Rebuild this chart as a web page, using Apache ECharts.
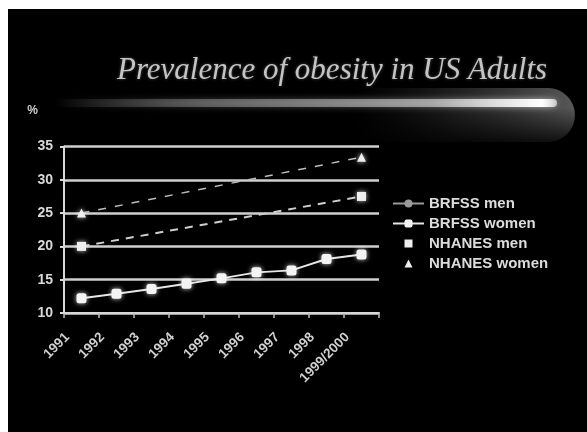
<!DOCTYPE html>
<html>
<head>
<meta charset="utf-8">
<style>
  html, body { margin: 0; padding: 0; background: #fff; }
  #chart { width: 587px; height: 432px; }
</style>
<script src="https://cdn.jsdelivr.net/npm/echarts@6/dist/echarts.min.js"></script>
</head>
<body>
<div id="chart"></div>
<script>
// Survey years on the category axis
const years = ['1991', '1992', '1993', '1994', '1995', '1996', '1997', '1998', '1999/2000'];

// Obesity prevalence (%) by survey
const brfssMen = [];
const brfssWomen = [12.2, 12.9, 13.6, 14.4, 15.2, 16.1, 16.4, 18.1, 18.8];
const nhanesMen = [20.0, null, null, null, null, null, null, null, 27.5];
const nhanesWomen = [25.0, null, null, null, null, null, null, null, 33.4];

// Value axis range
const yMin = 10, yMax = 35, yStep = 5;

const chart = echarts.init(document.getElementById('chart'), null, { renderer: 'canvas' });

const sans = 'Liberation Sans, Arial, sans-serif';

chart.setOption({
  backgroundColor: '#ffffff',
  animation: false,
  title: {
    text: 'Prevalence of obesity in US Adults',
    left: 112,
    top: 50,
    textStyle: {
      fontFamily: 'Liberation Serif, Times New Roman, serif',
      fontStyle: 'italic',
      fontWeight: 'normal',
      fontSize: 31,
      color: '#c4c4c4',
      textShadowColor: 'rgba(255,255,255,0.3)',
      textShadowBlur: 3
    }
  },
  graphic: [
    // slide background
    { type: 'rect', z: -100, silent: true,
      shape: { x: 8, y: 9, width: 579, height: 423 },
      style: { fill: '#000000' } },
    // grey haze under the right end of the streak
    { type: 'rect', z: -90, silent: true,
      shape: { x: 355, y: 88, width: 220, height: 54, r: [0, 30, 30, 0] },
      style: {
        fill: new echarts.graphic.LinearGradient(0, 0, 1, 0, [
          { offset: 0, color: 'rgba(60,60,60,0)' },
          { offset: 0.45, color: 'rgba(90,90,90,0.35)' },
          { offset: 1, color: 'rgba(125,125,125,0.7)' }
        ])
      } },
    // fade the haze out toward its lower edge
    { type: 'rect', z: -85, silent: true,
      shape: { x: 350, y: 108, width: 230, height: 36 },
      style: {
        fill: new echarts.graphic.LinearGradient(0, 0, 0, 1, [
          { offset: 0, color: 'rgba(0,0,0,0)' },
          { offset: 1, color: 'rgba(0,0,0,0.85)' }
        ])
      } },
    // light streak beneath the title
    { type: 'rect', z: -80, silent: true,
      shape: { x: 55, y: 99, width: 502, height: 8, r: 4 },
      style: {
        fill: new echarts.graphic.LinearGradient(0, 0, 1, 0, [
          { offset: 0, color: 'rgba(255,255,255,0)' },
          { offset: 0.3, color: 'rgba(200,200,200,0.35)' },
          { offset: 0.75, color: 'rgba(220,220,220,0.6)' },
          { offset: 0.97, color: 'rgba(255,255,255,1)' },
          { offset: 1, color: 'rgba(255,255,255,0.6)' }
        ]),
        shadowBlur: 6,
        shadowColor: 'rgba(255,255,255,0.6)'
      } }
  ],
  legend: {
    orient: 'vertical',
    left: 387,
    top: 191,
    itemWidth: 31,
    itemHeight: 10,
    itemGap: 5,
    textStyle: { color: '#dcdcdc', fontFamily: sans, fontWeight: 'bold', fontSize: 15 },
    data: [
      { name: 'BRFSS men' },
      { name: 'BRFSS women' },
      { name: 'NHANES men', lineStyle: { opacity: 0 } },
      { name: 'NHANES women', lineStyle: { opacity: 0 } }
    ]
  },
  grid: { left: 64, top: 146.5, right: 208, bottom: 119, containLabel: false },
  xAxis: {
    type: 'category',
    data: years,
    boundaryGap: true,
    axisLine: { lineStyle: { color: '#d8d8d8', width: 2 } },
    axisTick: { show: true, length: 5, lineStyle: { color: '#bdbdbd', width: 1.5 } },
    axisLabel: {
      rotate: 45,
      margin: 8,
      color: '#d0d0d0',
      fontFamily: sans,
      fontWeight: 'bold',
      fontSize: 13.5,
      padding: [0, 20, 0, 0],
      interval: 0
    },
    splitLine: { show: false }
  },
  yAxis: {
    type: 'value',
    min: yMin,
    max: yMax,
    interval: yStep,
    name: '%',
    nameLocation: 'end',
    nameGap: 30,
    nameTextStyle: { color: '#d0d0d0', fontFamily: sans, fontWeight: 'bold', fontSize: 12, align: 'right', padding: [0, 26, 0, 0] },
    axisLine: { show: true, lineStyle: { color: '#d8d8d8', width: 2 } },
    axisTick: { show: true, length: 4, lineStyle: { color: '#d8d8d8', width: 2 } },
    axisLabel: { margin: 11, color: '#d8d8d8', fontFamily: sans, fontWeight: 'bold', fontSize: 14 },
    splitLine: { show: true, lineStyle: { color: '#cfcfcf', width: 2.5 } }
  },
  series: [
    {
      name: 'BRFSS men',
      type: 'line',
      data: brfssMen,
      symbol: 'circle',
      symbolSize: 4,
      itemStyle: { color: '#9a9a9a' },
      lineStyle: { color: '#9a9a9a', width: 1.5 }
    },
    {
      name: 'BRFSS women',
      type: 'line',
      data: brfssWomen,
      symbol: 'roundRect',
      symbolSize: 10,
      itemStyle: { color: '#f4f4f4', shadowBlur: 5, shadowColor: 'rgba(255,255,255,0.8)' },
      lineStyle: { color: '#e6e6e6', width: 2 },
      z: 5
    },
    {
      name: 'NHANES men',
      type: 'line',
      data: nhanesMen,
      connectNulls: true,
      symbol: 'rect',
      symbolSize: 9,
      itemStyle: { color: '#eeeeee', shadowBlur: 5, shadowColor: 'rgba(255,255,255,0.8)' },
      lineStyle: { color: '#cfcfcf', width: 2, type: [8, 7] },
      z: 4
    },
    {
      name: 'NHANES women',
      type: 'line',
      data: nhanesWomen,
      connectNulls: true,
      symbol: 'triangle',
      symbolSize: 9,
      itemStyle: { color: '#eeeeee', shadowBlur: 5, shadowColor: 'rgba(255,255,255,0.8)' },
      lineStyle: { color: '#bdbdbd', width: 1.5, type: [8, 9] },
      z: 4
    }
  ]
});
</script>
</body>
</html>
